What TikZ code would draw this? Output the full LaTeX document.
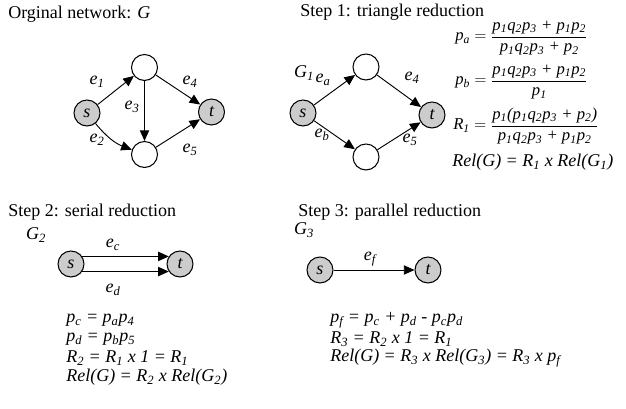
\documentclass[tikz,border=0pt]{standalone}
\usepackage{fontspec}
\usepackage{amsmath}
\setmainfont{Liberation Serif}
\usetikzlibrary{arrows.meta}
\newcommand\vs[2]{\textit{#1}\textsubscript{\textit{#2}}}
\tikzset{
  gnode/.style={circle,draw,line width=0.8pt,fill=gray!40,minimum size=19.5pt,inner sep=0pt,font=\itshape},
  wnode/.style={circle,draw,line width=0.8pt,fill=white,minimum size=19.5pt,inner sep=0pt},
  arr/.style={-{Triangle[length=8pt,width=7pt]},line width=0.7pt},
  lbl/.style={font=\itshape,inner sep=0pt},
  ttl/.style={anchor=west,inner sep=0pt},
  frm/.style={anchor=west,inner sep=0pt,font=\itshape},
  fracf/.style={anchor=west,inner sep=0pt,font=\fontsize{12.5}{15}\selectfont\itshape},
}
\begin{document}
\begin{tikzpicture}[x=0.75pt,y=-0.75pt]
\fontsize{13.5}{16}\selectfont
\useasboundingbox (0,0) rectangle (626,409);
% ---------- Original network
\node[ttl] (t0) at (8,14) {Orginal network: \textit{G}};
\node[gnode] (s) at (87,113) {s};
\node[wnode] (a) at (144.5,67.5) {};
\node[wnode] (b) at (144.5,154.5) {};
\node[gnode] (t) at (211.5,112) {t};
\draw[arr] (s) -- (a);
\draw[arr] (s) to[bend right=15] (b);
\draw[arr] (a) -- (b);
\draw[arr] (a) -- (t);
\draw[arr] (b) -- (t);
\node[lbl] (l1) at (97,82) {\vs e1};
\node[lbl] (l2) at (97,140) {\vs e2};
\node[lbl] (l3) at (132,107) {\vs e3};
\node[lbl] (l4) at (190,82) {\vs e4};
\node[lbl] (l5) at (190,150) {\vs e5};
% ---------- Step 1
\node[ttl] (t1) at (300,12) {Step 1: triangle reduction};
\node[lbl] (g1) at (304,73) {\vs G1};
\node[gnode] (s1) at (303,113) {s};
\node[wnode] (a1) at (366,67) {};
\node[wnode] (b1) at (366,157) {};
\node[gnode] (t1n) at (432,115) {t};
\draw[arr] (s1) -- (a1);
\draw[arr] (s1) -- (b1);
\draw[arr] (a1) -- (t1n);
\draw[arr] (b1) -- (t1n);
\node[lbl] (la) at (323,80) {\vs ea};
\node[lbl] (lb) at (322,135) {\vs eb};
\node[lbl] (l4b) at (412,78) {\vs e4};
\node[lbl] (l5b) at (410,140) {\vs e5};
\node[fracf] (fa) at (455,38) {\vs pa $=\dfrac{\text{\itshape\vs p1\vs q2\vs p3 + \vs p1\vs p2}}{\text{\itshape\vs p1\vs q2\vs p3 + \vs p2}}$};
\node[fracf] (fb) at (455,82) {\vs pb $=\dfrac{\text{\itshape\vs p1\vs q2\vs p3 + \vs p1\vs p2}}{\text{\itshape\vs p1}}$};
\node[fracf] (fr) at (453,126) {\vs R1 $=\dfrac{\text{\itshape\vs p1(\vs p1\vs q2\vs p3 + \vs p2)}}{\text{\itshape\vs p1\vs q2\vs p3 + \vs p1\vs p2}}$};
\node[frm] (fg) at (452,162) {Rel(G) = \vs R1 x Rel(\vs G1)};
% ---------- Step 2
\node[ttl] (t2) at (8,212) {Step 2: serial reduction};
\node[lbl] (g2) at (36,235) {\vs G2};
\node[gnode] (s2) at (71,264) {s};
\node[gnode] (t2n) at (180,264) {t};
\draw[arr] (s2.34) -- (t2n.146);
\draw[arr] (s2.-34) -- (t2n.-146);
\node[lbl] (lc) at (113,245) {\vs ec};
\node[lbl] (ld) at (113,290) {\vs ed};
\node[frm] (f2a) at (66,320) {\vs pc = \vs pa\vs p4};
\node[frm] (f2b) at (66,339) {\vs pd = \vs pb\vs p5};
\node[frm] (f2c) at (66,358) {\vs R2 = \vs R1 x 1 = \vs R1};
\node[frm] (f2d) at (66,377) {Rel(G) = \vs R2 x Rel(\vs G2)};
% ---------- Step 3
\node[ttl] (t3) at (298,212) {Step 3: parallel reduction};
\node[lbl] (g3) at (304,230) {\vs G3};
\node[gnode] (s3) at (320,270) {s};
\node[gnode] (t3n) at (428,270) {t};
\draw[arr] (s3) -- (t3n);
\node[lbl] (lf) at (370,259) {\vs ef};
\node[frm] (f3a) at (330,320) {\vs pf = \vs pc + \vs pd - \vs pc\vs pd};
\node[frm] (f3b) at (330,339) {\vs R3 = \vs R2 x 1 = \vs R1};
\node[frm] (f3c) at (330,358) {Rel(G) = \vs R3 x Rel(\vs G3) = \vs R3 x \vs pf};
\end{tikzpicture}
\end{document}
